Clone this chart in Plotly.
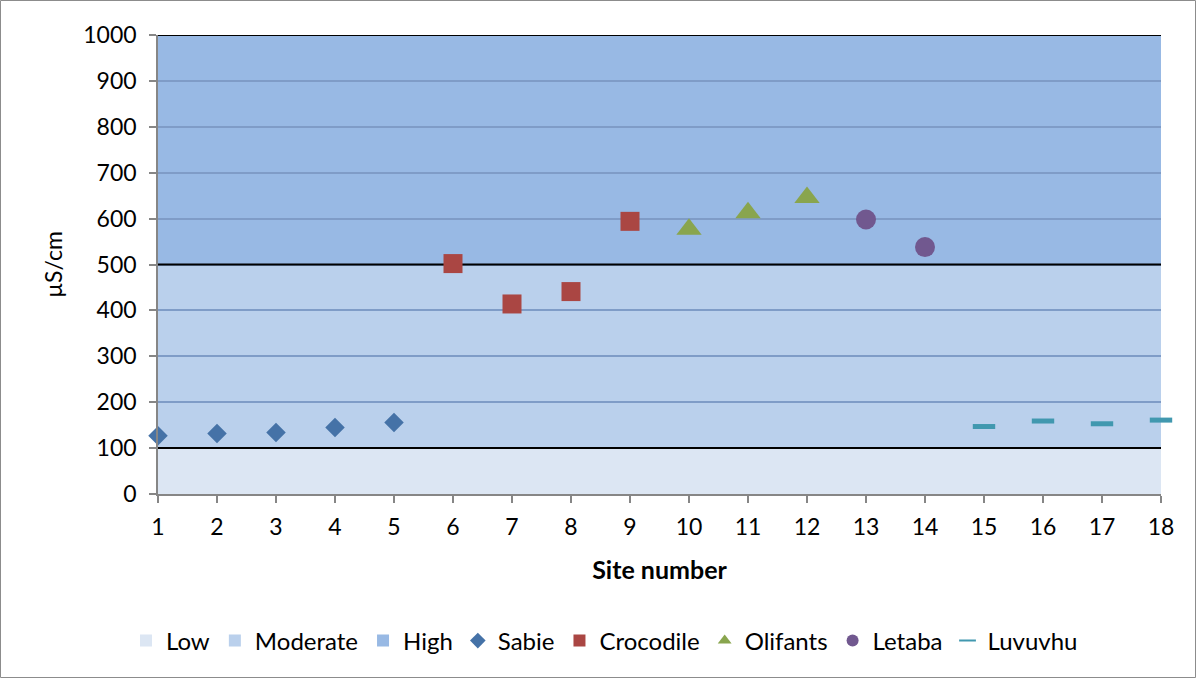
import plotly.graph_objects as go

# ---- data ----
sabie_x = [1, 2, 3, 4, 5]
sabie_y = [127, 132, 134, 145, 156]
croc_x = [6, 7, 8, 9]
croc_y = [502, 414, 441, 594]
olif_x = [10, 11, 12]
olif_y = [577, 613, 646]
letaba_x = [13, 14]
letaba_y = [598, 538]
luvu_x = [15, 16, 17, 18]
luvu_y = [147, 159, 153, 161]

band_names = ["Low", "Moderate", "High"]
band_bottoms = [0, 100, 500]
band_tops = [100, 500, 1000]
band_colors = ["#DCE6F3", "#BAD0EC", "#98B9E4"]
site_ticks = list(range(1, 19))
y_ticks = list(range(0, 1001, 100))

FONT = "Lato"
FS = 23
W, H = 1197, 679
ML, MR, MT, MB = 158, 36, 35, 185
PW, PH = W - ML - MR, H - MT - MB

fig = go.Figure()

shapes = []
for b0, b1, c in zip(band_bottoms, band_tops, band_colors):
    shapes.append(dict(type="rect", xref="x", yref="y", x0=site_ticks[0], x1=site_ticks[-1],
                       y0=b0, y1=b1, fillcolor=c, line=dict(width=0), layer="below"))
for t in band_tops:
    shapes.append(dict(type="line", xref="x", yref="y", x0=site_ticks[0], x1=site_ticks[-1],
                       y0=t, y1=t, line=dict(color="black", width=2), layer="between"))
# outer chart border
shapes.append(dict(type="rect", xref="paper", yref="paper",
                   x0=-(ML - 0.5) / PW, x1=1 + (MR - 1.5) / PW,
                   y0=-(MB - 1.5) / PH, y1=1 + (MT - 0.5) / PH,
                   line=dict(color="#8C8C8C", width=1), fillcolor="rgba(0,0,0,0)", layer="above"))

# legend entries for bands
for n, c in zip(band_names, band_colors):
    fig.add_trace(go.Scatter(x=[None], y=[None], mode="markers", name=n,
                             marker=dict(symbol="square", size=14, color=c)))

fig.add_trace(go.Scatter(x=sabie_x, y=sabie_y, mode="markers", name="Sabie", cliponaxis=False,
                         marker=dict(symbol="diamond", size=15, color="#4572A7")))
fig.add_trace(go.Scatter(x=croc_x, y=croc_y, mode="markers", name="Crocodile", cliponaxis=False,
                         marker=dict(symbol="square", size=19, color="#AA4643")))
fig.add_trace(go.Scatter(x=olif_x, y=olif_y, mode="markers", name="Olifants", cliponaxis=False,
                         marker=dict(symbol="triangle-up", size=22, color="#89A54E")))
fig.add_trace(go.Scatter(x=letaba_x, y=letaba_y, mode="markers", name="Letaba", cliponaxis=False,
                         marker=dict(symbol="circle", size=20, color="#71588F")))
fig.add_trace(go.Scatter(x=luvu_x, y=luvu_y, mode="markers", name="Luvuvhu", cliponaxis=False,
                         marker=dict(symbol="line-ew", size=16, color="#4198AF",
                                     line=dict(color="#4198AF", width=5))))

fig.update_layout(
    width=W, height=H,
    margin=dict(l=ML, r=MR, t=MT, b=MB),
    paper_bgcolor="white", plot_bgcolor="white",
    font=dict(family=FONT, size=FS, color="black"),
    shapes=shapes,
    showlegend=True,
    legend=dict(orientation="h", xref="container", yref="container", x=0.505, y=0.056,
                xanchor="center", yanchor="middle", font=dict(size=24),
                itemsizing="constant", tracegroupgap=0),
)
fig.update_xaxes(range=[site_ticks[0], site_ticks[-1]], tickvals=site_ticks,
                 ticks="outside", ticklen=7, tickcolor="#868686", tickwidth=1.5,
                 showline=True, linecolor="#868686", linewidth=1.5,
                 showgrid=False, zeroline=False, ticklabelstandoff=5,
                 title=dict(text="<b>Site number</b>", standoff=22, font=dict(size=25)))
fig.update_yaxes(range=[0, 1000], tickvals=y_ticks,
                 ticks="outside", ticklen=7, tickcolor="#868686", tickwidth=1.5,
                 showline=True, linecolor="#868686", linewidth=1.5,
                 showgrid=True, gridcolor="#7F9CC7", gridwidth=1.5, zeroline=False,
                 ticklabelstandoff=8,
                 title=dict(text="µS/cm", standoff=14, font=dict(size=FS)))

fig.write_html("out.html")
